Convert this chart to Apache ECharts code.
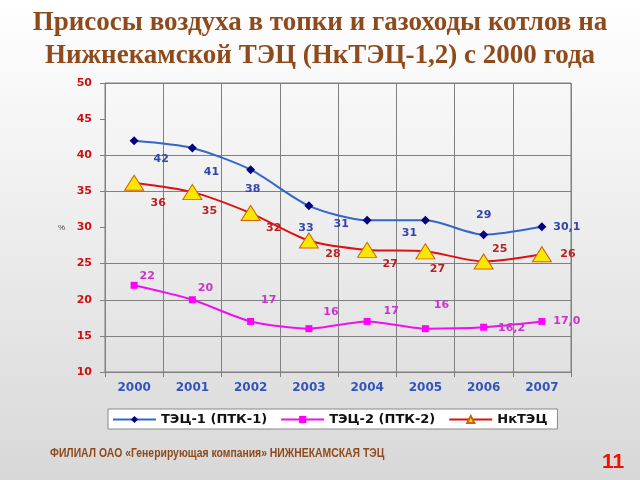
<!DOCTYPE html>
<html>
<head>
<meta charset="utf-8">
<script src="https://cdn.jsdelivr.net/npm/echarts@6/dist/echarts.min.js"></script>
<style>
html,body{margin:0;padding:0;width:640px;height:480px;overflow:hidden;
background:linear-gradient(to bottom,#ffffff 0%,#eeeeee 45%,#d8d8d8 100%);}
#c{width:640px;height:480px;}
</style>
</head>
<body>
<div id="c"></div>
<script>
var years = ['2000','2001','2002','2003','2004','2005','2006','2007'];
var tec1 = [42, 41, 38, 33, 31, 31, 29, 30.1];
var tec2 = [22, 20, 17, 16, 17, 16, 16.2, 17.0];
var nktec = [36.2, 34.9, 32, 28.2, 26.9, 26.7, 25.3, 26.3];
var tec1Labels = ['42','41','38','33','31','31','29','30,1'];
var tec2Labels = ['22','20','17','16','17','16','16,2','17,0'];
var nktecLabels = ['36','35','32','28','27','27','25','26'];
var seriesNames = ['ТЭЦ-1 (ПТК-1)','ТЭЦ-2 (ПТК-2)','НкТЭЦ'];

// label offsets (style only)
var tec1Off = [[27,18],[19,24],[2,19],[-3,22],[-26,4],[-16,13],[0,-20],[25,0]];
var tec2Off = [[13,-9],[13,-12],[18,-21],[22,-17],[24,-10],[16,-24],[28,1],[25,0]];
var nkOff = [[24,20],[17,19],[23,15],[24,14],[23,14],[12,18],[16,-12],[26,0]];

function items(vals, labels, offs){
  return vals.map(function(v,i){
    return {value:v, label:{offset:offs[i], formatter:labels[i]}};
  });
}

var F = 'DejaVu Sans';
var chart = echarts.init(document.getElementById('c'));
var gridC = '#808080';
chart.setOption({
  animation:false,
  backgroundColor:'transparent',
  title:{
    text:'Присосы воздуха в топки и газоходы котлов на\nНижнекамской ТЭЦ (НкТЭЦ-1,2) с 2000 года',
    left:'center', top:2,
    textStyle:{fontFamily:'Liberation Serif', fontWeight:'bold', fontSize:27, color:'#8f4a1c', lineHeight:33}
  },
  graphic:[
    {type:'text', x:50, y:447, scaleX:0.8, style:{text:'ФИЛИАЛ ОАО «Генерирующая компания» НИЖНЕКАМСКАЯ ТЭЦ',
      font:'bold 13px "Liberation Sans", Arial', fill:'#8f4a1c'}},
    {type:'text', x:602, y:452, style:{text:'11', font:'bold 21px "Liberation Sans", Arial', fill:'#ee1100'}}
  ],
  grid:{left:105, right:69, top:83, bottom:108, show:true, borderColor:gridC, borderWidth:1, backgroundColor:'transparent'},
  legend:{
    data:seriesNames, left:108, top:409, width:452,
    backgroundColor:'#ffffff', borderColor:'#888', borderWidth:1, borderRadius:0,
    padding:[4,10,3,4], itemGap:13, itemWidth:43, itemHeight:9,
    textStyle:{fontFamily:F, fontWeight:'bold', fontSize:13, color:'#111'}
  },
  xAxis:{
    type:'category', data:years, boundaryGap:true,
    axisLine:{lineStyle:{color:gridC}},
    axisTick:{show:true, length:5, lineStyle:{color:gridC}},
    axisLabel:{margin:10, color:'#3355bb', fontFamily:F, fontWeight:'bold', fontSize:12},
    splitLine:{show:true, lineStyle:{color:gridC}}
  },
  yAxis:{
    type:'value', min:10, max:50, interval:5,
    name:'%', nameLocation:'middle', nameGap:40, nameRotate:0,
    nameTextStyle:{fontSize:8, color:'#444'},
    axisLine:{show:true, lineStyle:{color:gridC}},
    axisTick:{show:true, length:5, lineStyle:{color:gridC}},
    axisLabel:{margin:13, color:'#cc1111', fontFamily:F, fontWeight:'bold', fontSize:11},
    splitLine:{show:true, lineStyle:{color:['transparent',gridC,gridC,gridC,'transparent',gridC,gridC,'transparent',gridC]}}
  },
  series:[
    {name:seriesNames[0], type:'line', smooth:0.25, data:items(tec1,tec1Labels,tec1Off),
      symbol:'diamond', symbolSize:9, lineStyle:{color:'#3366cc', width:2},
      itemStyle:{color:'#000080'},
      label:{show:true, position:'inside', color:'#3344aa', fontFamily:F, fontWeight:'bold', fontSize:11}},
    {name:seriesNames[1], type:'line', smooth:0.25, data:items(tec2,tec2Labels,tec2Off),
      symbol:'rect', symbolSize:7, lineStyle:{color:'#ee11ee', width:2},
      itemStyle:{color:'#ff00ff'},
      label:{show:true, position:'inside', color:'#cc33cc', fontFamily:F, fontWeight:'bold', fontSize:11}},
    {name:seriesNames[2], type:'line', smooth:0.25, data:items(nktec,nktecLabels,nkOff),
      symbol:'triangle', symbolSize:[19,15], lineStyle:{color:'#dd1111', width:2},
      itemStyle:{color:'#ffe600', borderColor:'#cc6600', borderWidth:1},
      label:{show:true, position:'inside', color:'#bb2222', fontFamily:F, fontWeight:'bold', fontSize:11}}
  ]
});
</script>
</body>
</html>
